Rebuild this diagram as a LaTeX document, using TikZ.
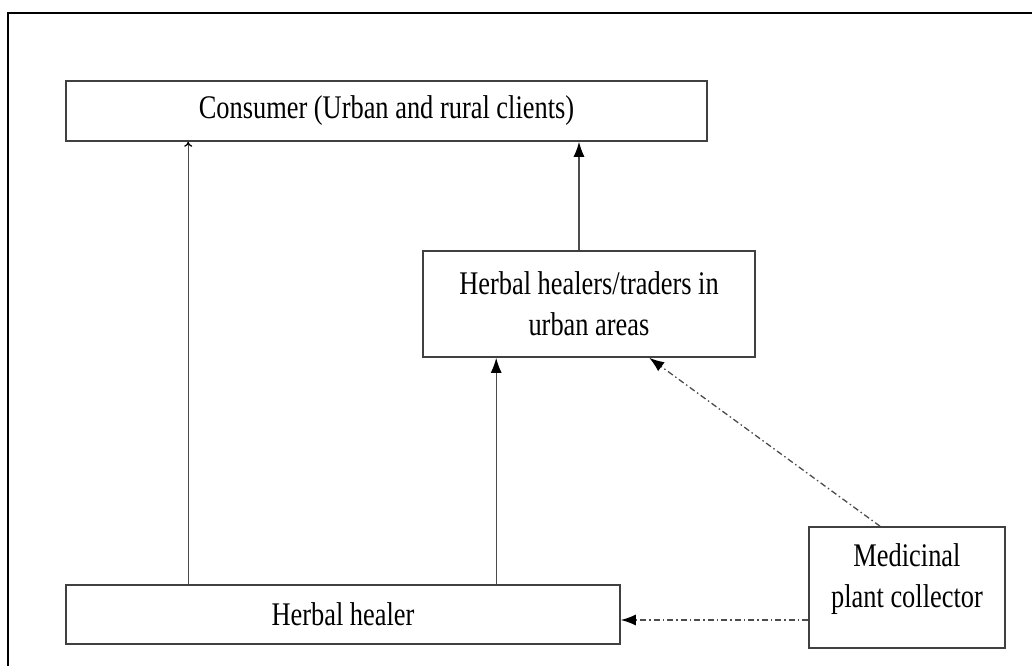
\documentclass[tikz,border=0pt]{standalone}
\usepackage{fontspec}
\setmainfont[FakeStretch=0.8]{Liberation Serif}
\usetikzlibrary{arrows.meta}

\begin{document}
\begin{tikzpicture}[x=1pt,y=1pt]

\tikzset{box/.style = {shape=rectangle,draw=black!75,line width=1.6pt,align=center,
  inner sep=2pt,font=\fontsize{33}{41}\selectfont}}
\tikzset{flow/.style = {-{Latex[length=15pt,width=11pt,black]},draw=black!70,line width=1.3pt}}
\tikzset{supply/.style = {flow,dash pattern=on 6pt off 3pt on 1.5pt off 3pt}}
\useasboundingbox (0,0) rectangle (1032,666);
%frame
\draw[line width=2.6pt] (8,0) -- (8,653) -- (1032,653);
%boxes
\node[box, minimum width=641pt, minimum height=60pt] (consumer) at (386.5,555) {Consumer (Urban and rural clients)};
\node[box, minimum width=332pt, minimum height=106pt] (urban) at (589,362) {Herbal healers/traders in\\urban areas};
\node[box, minimum width=554pt, minimum height=59pt] (healer) at (343,51.5) {Herbal healer};
\node[box, minimum width=196pt, minimum height=121pt, text depth=23pt] (collector) at (907,78.5) {Medicinal\\plant collector};
\coordinate (healer in) at ([yshift=-5.5pt]healer.east);
%edges
\draw[flow, -{To[length=5pt,width=8pt,black]}] ([xshift=123pt]healer.north west) -- ([xshift=123pt]healer.north west |- consumer.south);
\draw[flow] ([xshift=431pt]healer.north west) -- ([xshift=431pt]healer.north west |- urban.south);
\draw[flow] ([xshift=-10pt]urban.north) -- ([xshift=-10pt]urban.north |- consumer.south);
\draw[supply] ([xshift=-27pt]collector.north) -- ([xshift=227pt]urban.south west);
\draw[supply] (collector.west |- healer in) -- (healer in);

\end{tikzpicture}
\end{document}
